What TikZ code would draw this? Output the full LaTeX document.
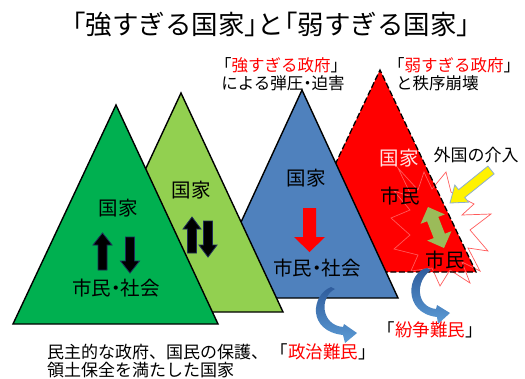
\documentclass[tikz,border=0pt]{standalone}
\usepackage{fontspec}
\setmainfont{Noto Sans CJK JP}
\newfontfamily\halfw[RawFeature=+halt]{Noto Sans CJK JP}
\newcommand{\hdot}{{\halfw ・}}
\newcommand{\hop}{{\halfw 「}}
\newcommand{\hcl}{{\halfw 」}}
\definecolor{dgreen}{HTML}{00B050}
\definecolor{lgreen}{HTML}{92D050}
\definecolor{blueT}{HTML}{4F81BD}
\definecolor{redT}{HTML}{FF0000}
\definecolor{olive}{HTML}{9BBB59}
\definecolor{navyedge}{HTML}{1F2D5A}
\definecolor{starline}{HTML}{FF5A5A}
\definecolor{pinktext}{HTML}{FFE4E4}
\definecolor{arrowblueA}{HTML}{2F5C9C}
\definecolor{arrowblueB}{HTML}{5B9BD5}
\definecolor{yedge}{HTML}{8EAFCF}
\begin{document}
\begin{tikzpicture}[x=1pt,y=-1pt,
  tri/.style={draw=black,line width=1.4pt,line join=miter},
  blackarr/.style={fill=black,draw=navyedge,line width=0.8pt},
  lbl/.style={inner sep=0pt,font=\fontsize{19.5}{21}\selectfont},
  small/.style={inner sep=0pt,font=\fontsize{16.5}{18}\selectfont},
  mid/.style={inner sep=0pt,font=\fontsize{17}{19}\selectfont},
  curv/.style={top color=arrowblueA,bottom color=arrowblueB,draw=none}]
\useasboundingbox (0,0) rectangle (525,378);
% red triangle
\fill[redT] (380,70) -- (476,272) -- (284,272) -- cycle;
% starburst
\draw[starline,line width=0.7pt,line join=miter]
 (398,168) -- (418,190) -- (424,172) -- (432,189) -- (446,172) -- (451,192)
 -- (474,204) -- (462,215) -- (491,214) -- (470,230) -- (488,251) -- (468,248)
 -- (480,271) -- (462,262) -- (470,283) -- (450,270) -- (440,286) -- (432,268)
 -- (411,271) -- (418,255) -- (394,249) -- (410,235) -- (391,218) -- (410,210)
 -- (394,191) -- (412,197) -- cycle;
\draw[black,line width=1.3pt,dash pattern=on 6pt off 2.5pt] (284,272) -- (380,70) -- (476,272) -- cycle;
% blue triangle
\filldraw[tri,fill=blueT] (302,90) -- (398,298) -- (206,298) -- cycle;
% light green triangle
\filldraw[tri,fill=lgreen] (181,93) -- (283,312) -- (79,312) -- cycle;
% dark green triangle
\filldraw[tri,fill=dgreen] (116,105) -- (218,324) -- (13,324) -- cycle;
% black arrows, dark green
\filldraw[blackarr] (102.5,233) -- (112,245) -- (107,245) -- (107,270) -- (98,270) -- (98,245) -- (93,245) -- cycle;
\filldraw[blackarr] (130,273) -- (139.5,261) -- (134.5,261) -- (134.5,237) -- (125.5,237) -- (125.5,261) -- (120.5,261) -- cycle;
% black arrows, light green
\filldraw[blackarr] (192,217) -- (201,229) -- (196.5,229) -- (196.5,253) -- (187.5,253) -- (187.5,229) -- (183,229) -- cycle;
\filldraw[blackarr] (208,257) -- (217,245) -- (212.5,245) -- (212.5,221) -- (203.5,221) -- (203.5,245) -- (199,245) -- cycle;
% red arrow in blue
\fill[redT] (309.5,252) -- (325,237) -- (316,237) -- (316,208) -- (303,208) -- (303,237) -- (294,237) -- cycle;
% green double arrow
\fill[olive] (428,207) -- (444.8,214.4) -- (438.3,216.9) -- (444.9,233.7) -- (451.4,231.2) -- (444,248)
 -- (427.2,240.6) -- (433.7,238.1) -- (427.1,221.3) -- (420.6,223.8) -- cycle;
% yellow arrow
\filldraw[fill=yellow,draw=yedge,line width=0.8pt] (450,203) -- (468.6,202.2) -- (464.8,197.5) -- (494.1,173.9)
 -- (487.9,166.1) -- (458.6,189.7) -- (454.8,185.0) -- cycle;
% curved blue arrows
\path[curv] (331,287) .. controls (311,295) and (307,331) .. (343,335) -- (345,343) -- (357,333) -- (344,324)
 -- (343,327) .. controls (321,325) and (319,297) .. (335,289) -- cycle;
\path[curv] (427,268) .. controls (407,272) and (402,313) .. (437,317) -- (438,324) -- (450,313) -- (437,305)
 -- (436,309) .. controls (416,307) and (415,281) .. (431,270) -- cycle;
% texts
\node[inner sep=0pt,font=\fontsize{26.5}{28}\selectfont] (title) at (271,24) {\hop 強すぎる国家\hcl と\hop 弱すぎる国家\hcl};
\node[small] (strong) at (281,65) {「\textcolor{red}{強すぎる政府}」};
\node[small] (strong2) at (283,83) {による弾圧\hdot 迫害};
\node[small] (weak) at (454,65) {「\textcolor{red}{弱すぎる政府}」};
\node[small,anchor=west] (weak2) at (396,83) {と秩序崩壊};
\node[lbl] (k1) at (118,208) {国家};
\node[lbl] (s1) at (116,288) {市民\hdot 社会};
\node[lbl] (k2) at (191,190) {国家};
\node[lbl] (k3) at (306,178) {国家};
\node[lbl] (s3) at (317,268) {市民\hdot 社会};
\node[lbl,text=pinktext] (k4) at (399,158) {国家};
\node[lbl] (c4a) at (400,196) {市民};
\node[lbl] (c4b) at (445,260) {市民};
\node[inner sep=0pt,font=\fontsize{17}{19}\selectfont] (intv) at (476,155) {外国の介入};
\node[inner sep=0pt,font=\fontsize{17.5}{19}\selectfont] (ref1) at (430,330) {「\textcolor{red}{紛争難民}」};
\node[inner sep=0pt,font=\fontsize{17.5}{19}\selectfont] (ref2) at (323,352) {「\textcolor{red}{政治難民}」};
\node[mid,anchor=west] (b1) at (47,352) {民主的な政府、国民の保護、};
\node[mid,anchor=west] (b2) at (47,370) {領土保全を満たした国家};
\end{tikzpicture}
\end{document}
